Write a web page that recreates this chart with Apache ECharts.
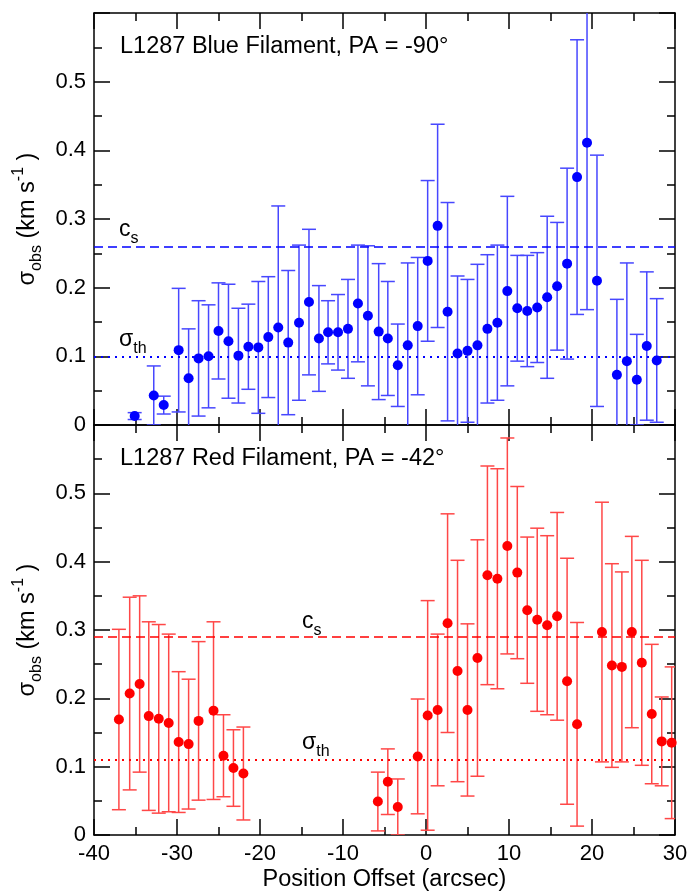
<!DOCTYPE html>
<html>
<head>
<meta charset="utf-8">
<script src="https://cdn.jsdelivr.net/npm/echarts@6/dist/echarts.min.js"></script>
<style>
  html, body { margin: 0; padding: 0; background: #fff; }
  #chart { width: 691px; height: 893px; }
</style>
</head>
<body>
<div id="chart"></div>
<script>
// Blue filament (PA = -90°): offset, velocity dispersion and its uncertainty
const blueX = [-35.1, -32.8, -31.6, -29.8, -28.6, -27.4, -26.2, -25.0, -23.8, -22.6,
               -21.4, -20.2, -19.0, -17.8, -16.6, -15.3, -14.1, -12.9, -11.8, -10.6,
               -9.4, -8.2, -7.0, -5.7, -4.6, -3.4, -2.2, -1.0, 0.2, 1.4,
               2.6, 3.8, 5.0, 6.2, 7.4, 8.6, 9.8, 11.0, 12.2, 13.4,
               14.6, 15.8, 17.0, 18.2, 19.4, 20.6, 23.0, 24.2, 25.4, 26.6, 27.8];
const blueSigma = [0.013, 0.043, 0.029, 0.109, 0.068, 0.097, 0.100, 0.137, 0.122, 0.101,
                   0.114, 0.113, 0.128, 0.142, 0.120, 0.149, 0.179, 0.126, 0.135, 0.135,
                   0.140, 0.177, 0.159, 0.136, 0.126, 0.087, 0.116, 0.144, 0.239, 0.290,
                   0.165, 0.104, 0.108, 0.116, 0.140, 0.149, 0.195, 0.170, 0.166, 0.171,
                   0.186, 0.202, 0.235, 0.361, 0.411, 0.210, 0.073, 0.093, 0.066, 0.115, 0.094];
const blueErr = [0.005, 0.043, 0.013, 0.090, 0.072, 0.084, 0.075, 0.070, 0.083, 0.069,
                 0.062, 0.096, 0.088, 0.177, 0.105, 0.113, 0.106, 0.077, 0.046, 0.055,
                 0.072, 0.085, 0.102, 0.099, 0.083, 0.060, 0.120, 0.100, 0.117, 0.148,
                 0.159, 0.113, 0.104, 0.118, 0.108, 0.113, 0.138, 0.077, 0.081, 0.080,
                 0.118, 0.093, 0.139, 0.200, 0.243, 0.183, 0.110, 0.143, 0.066, 0.108, 0.090];

// Red filament (PA = -42°)
const redX = [-37.0, -35.7, -34.5, -33.4, -32.2, -31.0, -29.8, -28.6, -27.4, -25.6,
              -24.4, -23.2, -22.0, -5.8, -4.6, -3.4, -1.0, 0.2, 1.4, 2.6,
              3.8, 5.0, 6.2, 7.4, 8.6, 9.8, 11.0, 12.2, 13.4, 14.6,
              15.8, 17.0, 18.2, 21.2, 22.4, 23.6, 24.8, 26.0, 27.2, 28.4, 29.6];
const redSigma = [0.169, 0.207, 0.221, 0.174, 0.170, 0.164, 0.136, 0.133, 0.167, 0.182,
                  0.116, 0.098, 0.090, 0.049, 0.078, 0.041, 0.115, 0.175, 0.183, 0.310,
                  0.240, 0.183, 0.259, 0.380, 0.375, 0.423, 0.384, 0.329, 0.315, 0.307,
                  0.320, 0.225, 0.162, 0.297, 0.248, 0.246, 0.297, 0.252, 0.177, 0.137, 0.135];
const redErr = [0.132, 0.141, 0.129, 0.138, 0.138, 0.130, 0.103, 0.095, 0.116, 0.130,
                0.060, 0.056, 0.068, 0.043, 0.048, 0.041, 0.084, 0.168, 0.111, 0.160,
                0.162, 0.126, 0.173, 0.160, 0.161, 0.158, 0.126, 0.107, 0.134, 0.131,
                0.152, 0.180, 0.149, 0.190, 0.149, 0.139, 0.140, 0.150, 0.102, 0.065, 0.111];

// Sound speed and thermal dispersion reference levels
const blueCs = 0.261, blueSigmaTh = 0.096;
const redCs = 0.292, redSigmaTh = 0.106;

const panelTitles = ['L1287 Blue Filament, PA = -90°', 'L1287 Red Filament, PA = -42°'];
const xTitle = 'Position Offset (arcsec)';

const FONT = '"Liberation Sans", Arial, Helvetica, sans-serif';
const BLUE = '#0000ff', BLUE_BAR = '#4747ff';
const RED = '#ff0000', RED_BAR = '#ff4747';

const zip3 = (a, b, c) => a.map((v, i) => [v, b[i], c[i]]);

function errorBars(color) {
  return function (params, api) {
    const x = api.value(0), y = api.value(1), e = api.value(2);
    const hi = api.coord([x, y + e]);
    const lo = api.coord([x, y - e]);
    const cap = 7;
    const style = { stroke: color, lineWidth: 1.5, fill: null };
    return {
      type: 'group',
      children: [
        { type: 'line', shape: { x1: hi[0], y1: hi[1], x2: lo[0], y2: lo[1] }, style },
        { type: 'line', shape: { x1: hi[0] - cap, y1: hi[1], x2: hi[0] + cap, y2: hi[1] }, style },
        { type: 'line', shape: { x1: lo[0] - cap, y1: lo[1], x2: lo[0] + cap, y2: lo[1] }, style }
      ]
    };
  };
}

const axisLineStyle = { color: '#000', width: 1.5 };
function frameAxis(extra) {
  return Object.assign({
    type: 'value',
    axisLine: { show: true, onZero: false, lineStyle: axisLineStyle },
    axisTick: { show: true, inside: true, length: 16, lineStyle: axisLineStyle },
    minorTick: { show: true, splitNumber: 2, length: 8, lineStyle: axisLineStyle },
    axisLabel: { show: false },
    splitLine: { show: false },
    minorSplitLine: { show: false }
  }, extra);
}

const xRange = { min: -40, max: 30, interval: 10 };
const yRange = { min: 0, max: 0.6, interval: 0.1 };

const yLabel = {
  show: true, fontFamily: FONT, fontSize: 22, color: '#000', margin: 8,
  showMaxLabel: false,
  formatter: v => (Math.abs(v) < 1e-9 ? '0' : v.toFixed(1))
};

const yName = '{m|σ}{sub|obs}{m| (km s}{sup|-1}{m| )}';
const yNameStyle = {
  fontFamily: FONT, color: '#000',
  rich: {
    m: { fontFamily: FONT, fontSize: 23.5, lineHeight: 34, color: '#000' },
    sub: { fontFamily: FONT, fontSize: 16, lineHeight: 12, verticalAlign: 'bottom', color: '#000' },
    sup: { fontFamily: FONT, fontSize: 16, lineHeight: 12, verticalAlign: 'top', color: '#000' }
  }
};

function refLineLabel(sym, sub, pos, dist) {
  return {
    show: true,
    position: pos,
    distance: dist,
    formatter: '{m|' + sym + '}{sub|' + sub + '}',
    rich: {
      m: { fontFamily: FONT, fontSize: 23, lineHeight: 34, color: '#000' },
      sub: { fontFamily: FONT, fontSize: 16, lineHeight: 12, verticalAlign: 'bottom', color: '#000' }
    }
  };
}

function refLines(cs, sth, color, csDist, sthDist) {
  return {
    silent: true,
    symbol: 'none',
    animation: false,
    data: [
      { yAxis: cs, lineStyle: { color, width: 1.5, type: [9, 5] },
        label: refLineLabel('c', 's', 'insideStartTop', csDist) },
      { yAxis: sth, lineStyle: { color, width: 2, type: [2, 5] },
        label: refLineLabel('σ', 'th', 'insideStartTop', sthDist) }
    ]
  };
}

const chart = echarts.init(document.getElementById('chart'), null, { renderer: 'canvas' });

const titleStyle = { fontFamily: FONT, fontSize: 23.5, fontWeight: 'normal', color: '#000' };

chart.setOption({
  animation: false,
  backgroundColor: '#fff',
  textStyle: { fontFamily: FONT },
  title: [
    { text: panelTitles[0], left: 120, top: 35, padding: 0, textStyle: titleStyle },
    { text: panelTitles[1], left: 120, top: 447, padding: 0, textStyle: titleStyle }
  ],
  grid: [
    { left: 94, right: 16, top: 13, height: 412 },
    { left: 94, right: 16, top: 425, height: 412 }
  ],
  xAxis: [
    frameAxis(Object.assign({ gridIndex: 0, position: 'bottom' }, xRange)),
    frameAxis(Object.assign({ gridIndex: 0, position: 'top' }, xRange)),
    frameAxis(Object.assign({
      gridIndex: 1, position: 'bottom',
      axisLabel: { show: true, fontFamily: FONT, fontSize: 22, color: '#000', margin: 8 },
      name: xTitle, nameLocation: 'middle', nameGap: 33,
      nameTextStyle: { fontFamily: FONT, fontSize: 23.5, color: '#000' }
    }, xRange)),
    frameAxis(Object.assign({ gridIndex: 1, position: 'top' }, xRange))
  ],
  yAxis: [
    frameAxis(Object.assign({
      gridIndex: 0, position: 'left', axisLabel: yLabel,
      name: yName, nameLocation: 'middle', nameRotate: 90, nameGap: 39,
      nameTextStyle: yNameStyle
    }, yRange)),
    frameAxis(Object.assign({ gridIndex: 0, position: 'right' }, yRange)),
    frameAxis(Object.assign({
      gridIndex: 1, position: 'left', axisLabel: yLabel,
      name: yName, nameLocation: 'middle', nameRotate: 90, nameGap: 39,
      nameTextStyle: yNameStyle
    }, yRange)),
    frameAxis(Object.assign({ gridIndex: 1, position: 'right' }, yRange))
  ],
  series: [
    {
      name: 'blue-err', type: 'custom', xAxisIndex: 0, yAxisIndex: 0, clip: true,
      renderItem: errorBars(BLUE_BAR), encode: { x: 0, y: 1 },
      data: zip3(blueX, blueSigma, blueErr), z: 2
    },
    {
      name: 'blue', type: 'scatter', xAxisIndex: 0, yAxisIndex: 0, clip: true,
      symbol: 'circle', symbolSize: 10, itemStyle: { color: BLUE, opacity: 1 },
      data: blueX.map((x, i) => [x, blueSigma[i]]), z: 3,
      markLine: refLines(blueCs, blueSigmaTh, BLUE, [25, 0], [25, 0])
    },
    {
      name: 'red-err', type: 'custom', xAxisIndex: 2, yAxisIndex: 2, clip: true,
      renderItem: errorBars(RED_BAR), encode: { x: 0, y: 1 },
      data: zip3(redX, redSigma, redErr), z: 2
    },
    {
      name: 'red', type: 'scatter', xAxisIndex: 2, yAxisIndex: 2, clip: true,
      symbol: 'circle', symbolSize: 10, itemStyle: { color: RED, opacity: 1 },
      data: redX.map((x, i) => [x, redSigma[i]]), z: 3,
      markLine: refLines(redCs, redSigmaTh, RED, [208, -2], [208, 0])
    }
  ]
});
</script>
</body>
</html>
